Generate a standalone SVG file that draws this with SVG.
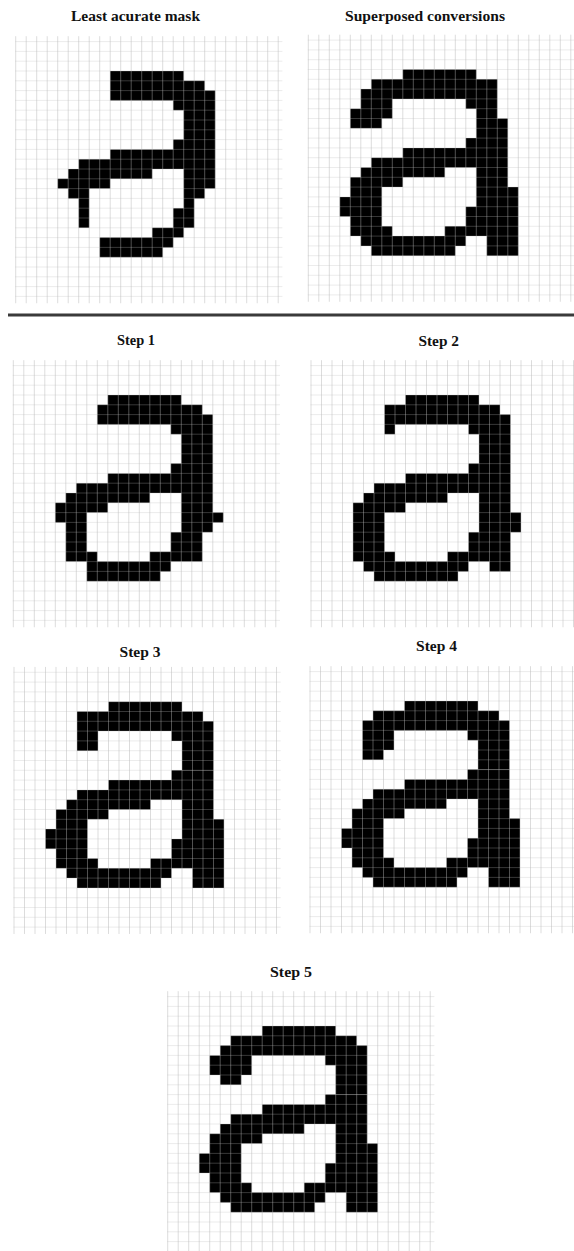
<svg xmlns="http://www.w3.org/2000/svg" xmlns:xlink="http://www.w3.org/1999/xlink" width="574" height="1251" viewBox="0 0 574 1251">
<style>
.title{font-family:"Liberation Serif","Times New Roman",serif;font-weight:bold;font-size:15px;fill:#111;text-anchor:middle}
.cells{fill:#000}
.gv{fill:none;stroke:#b1b1b1;stroke-opacity:0.45;stroke-width:1;vector-effect:non-scaling-stroke}
.gh{fill:none;stroke:#bebebe;stroke-opacity:0.29;stroke-width:1;vector-effect:non-scaling-stroke}
</style>
<defs>
<g id="grid">
<path class="gv" d="M0 -3.55V23.7M1 -3.55V23.7M2 -3.55V23.7M3 -3.55V23.7M4 -3.55V23.7M5 -3.55V23.7M6 -3.55V23.7M7 -3.55V23.7M8 -3.55V23.7M9 -3.55V23.7M10 -3.55V23.7M11 -3.55V23.7M12 -3.55V23.7M13 -3.55V23.7M14 -3.55V23.7M15 -3.55V23.7M16 -3.55V23.7M17 -3.55V23.7M18 -3.55V23.7M19 -3.55V23.7M20 -3.55V23.7M21 -3.55V23.7M22 -3.55V23.7M23 -3.55V23.7M24 -3.55V23.7M25 -3.55V23.7"/>
<path class="gh" d="M-0.05 -3H25.4M-0.05 -2H25.4M-0.05 -1H25.4M-0.05 0H25.4M-0.05 1H25.4M-0.05 2H25.4M-0.05 3H25.4M-0.05 4H25.4M-0.05 5H25.4M-0.05 6H25.4M-0.05 7H25.4M-0.05 8H25.4M-0.05 9H25.4M-0.05 10H25.4M-0.05 11H25.4M-0.05 12H25.4M-0.05 13H25.4M-0.05 14H25.4M-0.05 15H25.4M-0.05 16H25.4M-0.05 17H25.4M-0.05 18H25.4M-0.05 19H25.4M-0.05 20H25.4M-0.05 21H25.4M-0.05 22H25.4M-0.05 23H25.4"/>
</g>
<path id="lower" d="M15 7h4v1h-4z M9 8h10v1h-10z M6 9h13v1h-13z M5 10h8v1h-8z M16 10h3v2h-3z M4 11h5v1h-5z M4 12h3v1h-3z M16 12h4v2h-4z M3 13h4v2h-4z M15 14h5v2h-5z M4 15h3v1h-3z M4 16h4v1h-4z M13 16h7v1h-7z M5 17h10v1h-10z M17 17h3v2h-3z M6 18h8v1h-8z"/>
</defs>
<rect width="574" height="1251" fill="#fff"/>

<g id="panel-least-accurate">
<text class="title" x="135.5" y="20.5" textLength="129" lengthAdjust="spacingAndGlyphs">Least acurate mask</text>
<g transform="translate(15.7 71) scale(10.5 9.8)">
<path class="cells" d="M9 0h7v1h-7z M9 1h9v1h-9z M9 2h10v1h-10z M15 3h4v1h-4z M16 4h3v3h-3z M15 7h4v1h-4z M9 8h10v1h-10z M6 9h13v1h-13z M5 10h8v1h-8z M16 10h3v2h-3z M4 11h5v1h-5z M5 12h2v1h-2z M16 12h2v1h-2z M6 13h1v3h-1z M16 13h1v1h-1z M15 14h2v2h-2z M13 16h3v1h-3z M8 17h7v1h-7z M8 18h6v1h-6z"/>
<use xlink:href="#grid"/>
</g>
</g>

<g id="panel-superposed">
<text class="title" x="425" y="21" textLength="160" lengthAdjust="spacingAndGlyphs">Superposed conversions</text>
<g transform="translate(308.3 69.5) scale(10.5 9.8)">
<path class="cells" d="M9 0h7v1h-7z M6 1h12v1h-12z M5 2h13v1h-13z M5 3h3v1h-3z M15 3h3v1h-3z M4 4h4v1h-4z M16 4h2v1h-2z M4 5h3v1h-3z M16 5h3v2h-3z"/>
<use xlink:href="#lower" class="cells"/>
<use xlink:href="#grid"/>
</g>
</g>

<line x1="8" y1="315" x2="574" y2="315" stroke="#3a3a3a" stroke-width="3"/>

<g id="panel-step1">
<text class="title" x="136" y="345.3" textLength="38" lengthAdjust="spacingAndGlyphs">Step 1</text>
<g transform="translate(13.3 395) scale(10.5 9.8)">
<path class="cells" d="M9 0h7v1h-7z M8 1h10v1h-10z M8 2h11v1h-11z M15 3h4v1h-4z M16 4h3v3h-3z M15 7h4v1h-4z M9 8h10v1h-10z M6 9h13v1h-13z M5 10h8v1h-8z M16 10h3v4h-3z M19 12h1v1h-1z M4 11h5v1h-5z M4 12h3v1h-3z M5 13h2v4h-2z M15 14h3v3h-3z M13 16h2v1h-2z M7 16h1v1h-1z M7 17h8v1h-8z M7 18h7v1h-7z"/>
<use xlink:href="#grid"/>
</g>
</g>

<g id="panel-step2">
<text class="title" x="438.7" y="346" textLength="40.5" lengthAdjust="spacingAndGlyphs">Step 2</text>
<g transform="translate(311 395) scale(10.5 9.8)">
<path class="cells" d="M9 0h7v1h-7z M7 1h11v1h-11z M7 2h12v1h-12z M7 3h1v1h-1z M15 3h4v1h-4z M16 4h3v3h-3z M15 7h4v1h-4z M9 8h10v1h-10z M6 9h13v1h-13z M5 10h8v1h-8z M16 10h3v4h-3z M19 12h1v2h-1z M4 11h5v1h-5z M4 12h3v4h-3z M15 14h4v3h-4z M4 16h4v1h-4z M13 16h2v1h-2z M5 17h10v1h-10z M17 17h2v1h-2z M6 18h8v1h-8z"/>
<use xlink:href="#grid"/>
</g>
</g>

<g id="panel-step3">
<text class="title" x="140" y="656.5" textLength="41" lengthAdjust="spacingAndGlyphs">Step 3</text>
<g transform="translate(14 701.7) scale(10.5 9.8)">
<path class="cells" d="M9 0h7v1h-7z M6 1h12v1h-12z M6 2h13v1h-13z M6 3h2v2h-2z M15 3h4v1h-4z M16 4h3v3h-3z"/>
<use xlink:href="#lower" class="cells"/>
<use xlink:href="#grid"/>
</g>
</g>

<g id="panel-step4">
<text class="title" x="436.5" y="651" textLength="41" lengthAdjust="spacingAndGlyphs">Step 4</text>
<g transform="translate(310 701) scale(10.5 9.8)">
<path class="cells" d="M9 0h7v1h-7z M6 1h12v1h-12z M5 2h14v1h-14z M5 3h3v2h-3z M15 3h4v1h-4z M16 4h3v3h-3z M5 5h2v1h-2z"/>
<use xlink:href="#lower" class="cells"/>
<use xlink:href="#grid"/>
</g>
</g>

<g id="panel-step5">
<text class="title" x="291" y="977.3" textLength="42" lengthAdjust="spacingAndGlyphs">Step 5</text>
<g transform="translate(167.7 1026) scale(10.5 9.8)">
<path class="cells" d="M9 0h7v1h-7z M6 1h12v1h-12z M5 2h14v1h-14z M4 3h4v2h-4z M15 3h4v1h-4z M16 4h3v3h-3z M5 5h2v1h-2z"/>
<use xlink:href="#lower" class="cells"/>
<use xlink:href="#grid"/>
</g>
</g>
</svg>
